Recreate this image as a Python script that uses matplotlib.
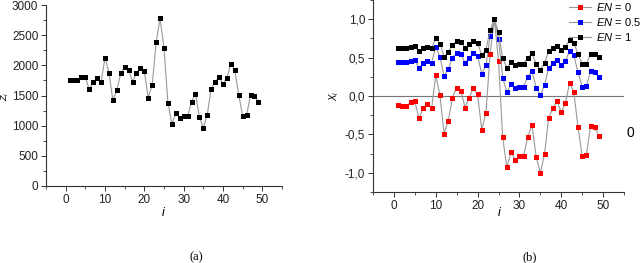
import matplotlib
matplotlib.use('Agg')
import matplotlib.pyplot as plt
from matplotlib.ticker import MultipleLocator, FuncFormatter

plt.rcParams['font.family'] = ['Liberation Sans', 'DejaVu Sans']
plt.rcParams['mathtext.fontset'] = 'custom'
plt.rcParams['mathtext.rm'] = 'Liberation Sans'
plt.rcParams['mathtext.it'] = 'Liberation Sans:italic'

# index of the sample
idx = list(range(1, 50))

# panel (a): Z_i
z_vals = [1760, 1750, 1750, 1800, 1805, 1600, 1730, 1785, 1720, 2125,
          1880, 1420, 1590, 1865, 1980, 1930, 1730, 1865, 1960, 1900,
          1465, 1675, 2380, 2780, 2290, 1380, 1025, 1210, 1130, 1160,
          1160, 1395, 1530, 1150, 965, 1185, 1615, 1725, 1805, 1690,
          1795, 2030, 1920, 1510, 1160, 1170, 1515, 1500, 1400]

# panel (b): X_i for three EN values
x_en0 = [-0.12, -0.13, -0.13, -0.08, -0.07, -0.29, -0.15, -0.10, -0.16, 0.27,
         0.01, -0.49, -0.32, -0.02, 0.11, 0.07, -0.15, -0.02, 0.10, 0.02,
         -0.44, -0.22, 0.55, 1.00, 0.46, -0.54, -0.93, -0.73, -0.83, -0.78,
         -0.78, -0.53, -0.38, -0.79, -1.00, -0.76, -0.28, -0.16, -0.07, -0.21,
         -0.09, 0.17, 0.05, -0.40, -0.78, -0.77, -0.39, -0.41, -0.52]
x_en05 = [0.445, 0.445, 0.445, 0.46, 0.47, 0.36, 0.43, 0.46, 0.43, 0.64,
          0.51, 0.26, 0.35, 0.50, 0.56, 0.55, 0.43, 0.50, 0.56, 0.52,
          0.29, 0.40, 0.78, 1.00, 0.74, 0.24, 0.05, 0.15, 0.10, 0.12,
          0.12, 0.25, 0.32, 0.11, 0.01, 0.14, 0.37, 0.43, 0.47, 0.40,
          0.46, 0.59, 0.53, 0.31, 0.12, 0.13, 0.32, 0.31, 0.25]
x_en1 = [0.63, 0.63, 0.63, 0.64, 0.65, 0.58, 0.62, 0.64, 0.62, 0.76,
         0.68, 0.51, 0.57, 0.67, 0.71, 0.70, 0.62, 0.68, 0.71, 0.69,
         0.53, 0.60, 0.86, 1.00, 0.83, 0.49, 0.37, 0.44, 0.40, 0.42,
         0.42, 0.50, 0.555, 0.415, 0.345, 0.43, 0.58, 0.62, 0.65, 0.60,
         0.64, 0.73, 0.69, 0.55, 0.42, 0.42, 0.55, 0.545, 0.51]

en_labels = ['$\\it{EN}$ = 0', '$\\it{EN}$ = 0.5', '$\\it{EN}$ = 1']
en_colors = ['#ff0000', '#0000ff', '#000000']

W, H = 640, 263
fig = plt.figure(figsize=(6.4, 2.63), dpi=100)


def px_box(x0, x1, ytop, ybot):
    return [x0 / W, 1 - ybot / H, (x1 - x0) / W, (ybot - ytop) / H]


def style_axes(ax):
    for s in ('top', 'right'):
        ax.spines[s].set_visible(False)
    for s in ('left', 'bottom'):
        ax.spines[s].set_linewidth(0.8)
        ax.spines[s].set_color('#333333')
    ax.tick_params(which='major', direction='out', length=3.5, width=0.7,
                   labelsize=8.5, pad=2, color='#333333', labelcolor='#222222')
    ax.tick_params(which='minor', direction='out', length=2, width=0.6,
                   color='#333333')
    ax.set_xlim(-5, 55)
    ax.xaxis.set_major_locator(MultipleLocator(10))
    ax.xaxis.set_minor_locator(MultipleLocator(5))


line_kw = dict(color='#999999', lw=0.8, marker='s', markersize=3.6,
               markeredgewidth=0)

# (a)
ax1 = fig.add_axes(px_box(46, 282, 5, 186))
ax1.plot(idx, z_vals, markerfacecolor='black', **line_kw)
ax1.set_ylim(0, 3000)
ax1.yaxis.set_major_locator(MultipleLocator(500))
ax1.yaxis.set_minor_locator(MultipleLocator(250))
style_axes(ax1)

# (b)
ax2 = fig.add_axes(px_box(373, 624, 0, 192))
ax2.axhline(0, color='#777777', lw=0.8)
handles = []
for ys, lab, col in zip([x_en0, x_en05, x_en1], en_labels, en_colors):
    h, = ax2.plot(idx, ys, markerfacecolor=col, label=lab, **line_kw)
    handles.append(h)
ax2.set_ylim(-1.25, 1.25)
ax2.yaxis.set_major_locator(MultipleLocator(0.5))
ax2.yaxis.set_minor_locator(MultipleLocator(0.25))
ax2.yaxis.set_major_formatter(FuncFormatter(lambda v, p: f'{v:.1f}'.replace('.', ',')))
style_axes(ax2)

fig.legend(handles=handles, loc='upper right', bbox_to_anchor=(642 / W, 1.0),
           frameon=False, fontsize=8, handlelength=2.0, handletextpad=0.4,
           labelspacing=0.25, borderpad=0.1, borderaxespad=0)

# axis labels
fig.text(164 / W, 1 - 213 / H, '$\\it{i}$', ha='center', va='center', fontsize=9)
fig.text(500 / W, 1 - 213 / H, '$\\it{i}$', ha='center', va='center', fontsize=9)
fig.text(5.5 / W, 1 - 96 / H, '$Z_i$', rotation=90, ha='center', va='center', fontsize=6.5)
fig.text(334 / W, 1 - 96 / H, '$X_i$', rotation=90, ha='center', va='center', fontsize=7)
fig.text(630 / W, 1 - 133 / H, '0', ha='center', va='center', fontsize=10)

# captions
fig.text(196 / W, 1 - 257 / H, '(a)', ha='center', va='center',
         fontsize=9, family='Liberation Serif')
fig.text(530 / W, 1 - 257 / H, '(b)', ha='center', va='center',
         fontsize=9, family='Liberation Serif')

fig.savefig('out.png', dpi=100)
